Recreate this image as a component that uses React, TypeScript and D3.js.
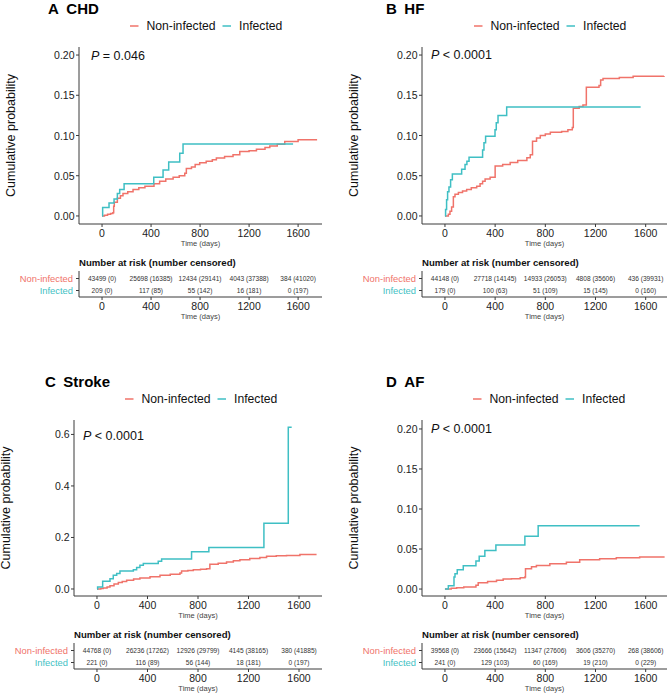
import * as d3 from "d3";

// colours used by survminer / ggplot default palette
const RED = "#F0736A";
const TEAL = "#3FBFC4";
const FONT = "'Liberation Sans', Arial, sans-serif";

const groups = ["Non-infected", "Infected"];
const timeTicks = [0, 400, 800, 1200, 1600];

// [day, cumulative probability] step points
const chdNon = [[0,0],[20,0.001],[45,0.002],[70,0.003],[88,0.004],[95,0.012],[100,0.017],[125,0.022],[150,0.025],[171,0.028],[210,0.030],[253,0.033],[300,0.035],[350,0.037],[424,0.040],[470,0.043],[520,0.046],[580,0.048],[630,0.050],[675,0.053],[688,0.059],[730,0.061],[760,0.064],[797,0.066],[850,0.068],[900,0.070],[933,0.072],[1000,0.074],[1069,0.076],[1124,0.080],[1200,0.081],[1260,0.083],[1330,0.085],[1369,0.087],[1430,0.089],[1491,0.0925],[1600,0.0946],[1755,0.0946]];
const chdInf = [[0,0],[5,0.0105],[57,0.016],[98,0.021],[125,0.028],[144,0.033],[180,0.040],[422,0.048],[498,0.057],[544,0.067],[634,0.078],[661,0.0895],[1559,0.0895]];

const hfNon = [[0,0],[27,0.002],[40,0.006],[53,0.011],[67,0.024],[80,0.027],[107,0.029],[140,0.031],[173,0.033],[210,0.035],[253,0.037],[280,0.040],[300,0.043],[320,0.046],[360,0.048],[400,0.062],[460,0.064],[520,0.0665],[580,0.069],[653,0.0725],[680,0.076],[698,0.093],[730,0.097],[760,0.100],[800,0.102],[840,0.104],[930,0.105],[980,0.107],[1015,0.110],[1023,0.134],[1070,0.136],[1100,0.138],[1127,0.160],[1228,0.162],[1241,0.169],[1260,0.171],[1390,0.172],[1500,0.1735],[1746,0.174]];
const hfInf = [[0,0],[5,0.008],[13,0.020],[21,0.030],[32,0.036],[45,0.045],[59,0.052],[133,0.058],[160,0.064],[175,0.068],[192,0.073],[300,0.082],[311,0.091],[324,0.099],[399,0.107],[409,0.116],[423,0.125],[492,0.1355],[1560,0.1355]];

const strokeNon = [[0,0],[30,0.002],[50,0.004],[80,0.008],[103,0.013],[135,0.019],[169,0.025],[200,0.029],[235,0.034],[290,0.039],[340,0.043],[420,0.048],[499,0.053],[580,0.057],[657,0.062],[670,0.070],[720,0.072],[763,0.075],[820,0.077],[868,0.079],[894,0.096],[960,0.100],[1026,0.105],[1080,0.110],[1132,0.114],[1210,0.118],[1290,0.122],[1343,0.127],[1420,0.129],[1501,0.130],[1607,0.1335],[1739,0.1335]];
const strokeInf = [[0,0],[5,0.008],[45,0.030],[103,0.040],[129,0.053],[156,0.060],[182,0.070],[288,0.075],[314,0.083],[340,0.092],[367,0.099],[485,0.108],[512,0.116],[749,0.145],[886,0.161],[1322,0.255],[1515,0.628],[1542,0.628]];

const afNon = [[0,0],[50,0.001],[93,0.0017],[150,0.0025],[247,0.0046],[265,0.008],[340,0.0095],[411,0.011],[464,0.0125],[530,0.013],[600,0.014],[637,0.015],[642,0.0253],[690,0.028],[729,0.0295],[836,0.0315],[968,0.0336],[1074,0.0365],[1233,0.0378],[1366,0.039],[1552,0.040],[1751,0.040]];
const afInf = [[0,0],[27,0.004],[72,0.015],[80,0.019],[98,0.024],[146,0.029],[247,0.035],[273,0.041],[318,0.048],[406,0.055],[637,0.066],[743,0.079],[1552,0.079]];

// number at risk (number censored)
const chdRiskNon = ["43499 (0)", "25698 (16385)", "12434 (29141)", "4043 (37388)", "384 (41020)"];
const chdRiskInf = ["209 (0)", "117 (85)", "55 (142)", "16 (181)", "0 (197)"];
const hfRiskNon = ["44148 (0)", "27718 (14145)", "14933 (26053)", "4808 (35606)", "436 (39931)"];
const hfRiskInf = ["179 (0)", "100 (63)", "51 (109)", "15 (145)", "0 (160)"];
const strokeRiskNon = ["44768 (0)", "26236 (17262)", "12926 (29799)", "4145 (38165)", "380 (41885)"];
const strokeRiskInf = ["221 (0)", "116 (89)", "56 (144)", "18 (181)", "0 (197)"];
const afRiskNon = ["39568 (0)", "23666 (15642)", "11347 (27606)", "3606 (35270)", "268 (38606)"];
const afRiskInf = ["241 (0)", "129 (103)", "60 (169)", "19 (210)", "0 (229)"];

const smallTicks = [0, 0.05, 0.1, 0.15, 0.2];
const strokeTicks = [0, 0.2, 0.4, 0.6];

const panels = [
  { letter: "A", name: "CHD", p: "= 0.046", non: chdNon, inf: chdInf, riskNon: chdRiskNon, riskInf: chdRiskInf,
    yTicks: smallTicks, yFmt: ".2f", yDomain: [-0.01, 0.21], xDomain: [-188, 1795],
    left: 79, right: 322, top: 47, bottom: 224, titleX: 48, titleY: 14, legX: 130, legY: 26, pX: 91, pY: 56 },
  { letter: "B", name: "HF", p: "< 0.0001", non: hfNon, inf: hfInf, riskNon: hfRiskNon, riskInf: hfRiskInf,
    yTicks: smallTicks, yFmt: ".2f", yDomain: [-0.01, 0.21], xDomain: [-183, 1770],
    left: 422, right: 667, top: 47, bottom: 224, titleX: 386, titleY: 14, legX: 474, legY: 26, pX: 431, pY: 55 },
  { letter: "C", name: "Stroke", p: "< 0.0001", non: strokeNon, inf: strokeInf, riskNon: strokeRiskNon, riskInf: strokeRiskInf,
    yTicks: strokeTicks, yFmt: ".1f", yDomain: [-0.0272, 0.656], xDomain: [-182, 1782],
    left: 74, right: 322, top: 420, bottom: 596, titleX: 45, titleY: 387, legX: 125, legY: 399, pX: 83, pY: 436 },
  { letter: "D", name: "AF", p: "< 0.0001", non: afNon, inf: afInf, riskNon: afRiskNon, riskInf: afRiskInf,
    yTicks: smallTicks, yFmt: ".2f", yDomain: [-0.0087, 0.2112], xDomain: [-183, 1770],
    left: 422, right: 667, top: 420, bottom: 596, titleX: 386, titleY: 387, legX: 473, legY: 399, pX: 431, pY: 429 },
];

const AXIS = "#3a3a3a";

function Panel({ cfg }) {
  const x = d3.scaleLinear().domain(cfg.xDomain).range([cfg.left, cfg.right]);
  const y = d3.scaleLinear().domain(cfg.yDomain).range([cfg.bottom, cfg.top]);
  const line = d3.line().x(d => x(d[0])).y(d => y(d[1])).curve(d3.curveStepAfter);
  const fmt = d3.format(cfg.yFmt);
  const b = cfg.bottom;
  const tTop = b + 47, tBot = b + 73;
  const rowY = [b + 54.5, b + 66.5];
  const midY = (cfg.top + cfg.bottom) / 2;

  return (
    <g fontFamily={FONT}>
      {/* title */}
      <text x={cfg.titleX} y={cfg.titleY} fontSize={15} fontWeight="bold" fill="#000">
        {cfg.letter}{"\u2002"}{cfg.name}
      </text>

      {/* legend */}
      <g fontSize={12.2} fill="#111">
        <line x1={cfg.legX} x2={cfg.legX + 8.5} y1={cfg.legY} y2={cfg.legY} stroke={RED} strokeWidth={1.5} />
        <text x={cfg.legX + 16.5} y={cfg.legY + 4.3}>{groups[0]}</text>
        <line x1={cfg.legX + 92.5} x2={cfg.legX + 101} y1={cfg.legY} y2={cfg.legY} stroke={TEAL} strokeWidth={1.5} />
        <text x={cfg.legX + 109} y={cfg.legY + 4.3}>{groups[1]}</text>
      </g>

      {/* y label */}
      <text transform={`translate(${cfg.left - 68},${midY}) rotate(-90)`} textAnchor="middle"
        dominantBaseline="central" fontSize={12.5} fill="#111">Cumulative probability</text>

      {/* axes */}
      <line x1={cfg.left} x2={cfg.left} y1={cfg.top} y2={b} stroke={AXIS} strokeWidth={1} />
      <line x1={cfg.left} x2={cfg.right} y1={b} y2={b} stroke={AXIS} strokeWidth={1} />
      {cfg.yTicks.map(t => (
        <g key={"y" + t}>
          <line x1={cfg.left - 3} x2={cfg.left} y1={y(t)} y2={y(t)} stroke={AXIS} />
          <text x={cfg.left - 4.5} y={y(t)} textAnchor="end" dominantBaseline="central" fontSize={10.5} fill="#222">{fmt(t)}</text>
        </g>
      ))}
      {timeTicks.map(t => (
        <g key={"x" + t}>
          <line x1={x(t)} x2={x(t)} y1={b} y2={b + 3} stroke={AXIS} />
          <text x={x(t)} y={b + 8.5} textAnchor="middle" dominantBaseline="central" fontSize={10.5} fill="#222">{t}</text>
        </g>
      ))}
      <text x={(cfg.left + cfg.right) / 2} y={b + 19.5} textAnchor="middle" dominantBaseline="central" fontSize={7.5} fill="#444">Time (days)</text>

      {/* curves */}
      <path d={line(cfg.non)} fill="none" stroke={RED} strokeWidth={1.5} />
      <path d={line(cfg.inf)} fill="none" stroke={TEAL} strokeWidth={1.5} />

      {/* p value */}
      <text x={cfg.pX} y={cfg.pY} dominantBaseline="central" fontSize={12.5} fill="#111">
        <tspan fontStyle="italic">P</tspan> {cfg.p}
      </text>

      {/* risk table */}
      <text x={cfg.left} y={b + 38} dominantBaseline="central" fontSize={9.6} fontWeight="bold" fill="#111">Number at risk (number censored)</text>
      <line x1={cfg.left} x2={cfg.left} y1={tTop} y2={tBot} stroke={AXIS} />
      <line x1={cfg.left} x2={cfg.right} y1={tBot} y2={tBot} stroke={AXIS} />
      {groups.map((g, i) => (
        <g key={g}>
          <line x1={cfg.left - 3} x2={cfg.left} y1={rowY[i]} y2={rowY[i]} stroke={AXIS} />
          <text x={cfg.left - 6} y={rowY[i]} textAnchor="end" dominantBaseline="central" fontSize={9.4}
            fill={i === 0 ? RED : TEAL}>{g}</text>
          {(i === 0 ? cfg.riskNon : cfg.riskInf).map((v, j) => (
            <text key={j} x={x(timeTicks[j])} y={rowY[i]} textAnchor="middle" dominantBaseline="central"
              fontSize={6.6} fill="#333">{v}</text>
          ))}
        </g>
      ))}
      {timeTicks.map(t => (
        <g key={"tx" + t}>
          <line x1={x(t)} x2={x(t)} y1={tBot} y2={tBot + 3} stroke={AXIS} />
          <text x={x(t)} y={tBot + 8.5} textAnchor="middle" dominantBaseline="central" fontSize={10.5} fill="#222">{t}</text>
        </g>
      ))}
      <text x={(cfg.left + cfg.right) / 2} y={tBot + 19.5} textAnchor="middle" dominantBaseline="central" fontSize={7.5} fill="#444">Time (days)</text>
    </g>
  );
}

export default function App() {
  return (
    <svg width={672} height={696} style={{ position: "absolute", left: 0, top: 0, background: "#fff" }}>
      {panels.map(p => <Panel key={p.letter} cfg={p} />)}
    </svg>
  );
}
